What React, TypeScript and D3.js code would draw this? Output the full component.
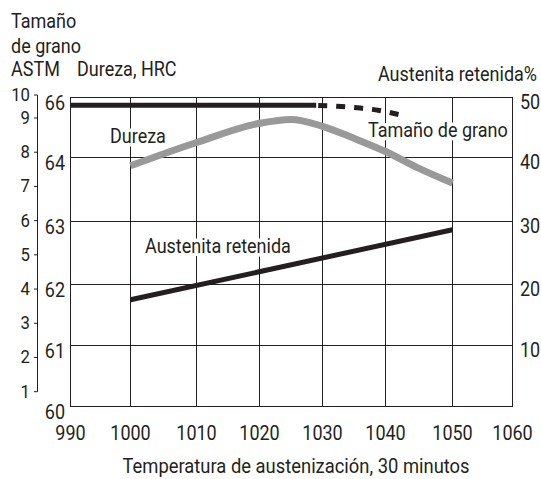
import React from "react";
import * as d3 from "d3";

// Austenitizing temperature, °C
const temperatureTicks = [990, 1000, 1010, 1020, 1030, 1040, 1050, 1060];
// Retained austenite, % (right axis)
const austeniteTicks = [0, 10, 20, 30, 40, 50];
const austeniteLabels = [10, 20, 30, 40, 50];
// Hardness, HRC (inner left axis)
const hardnessTicks = [60, 61, 62, 63, 64, 66];
// ASTM grain size (outer left axis)
const grainTicks = [1, 2, 3, 4, 5, 6, 7, 8, 9, 10];

// Hardness curve
const hardnessTemps = [1000, 1010, 1020, 1025, 1030, 1035, 1040, 1045, 1050];
const hardnessHRC = [63.87, 64.5, 65.14, 65.27, 65.04, 64.64, 64.2, 63.83, 63.6];

// Retained austenite
const austeniteTemps = [1000, 1050];
const austenitePct = [17.5, 28.7];

// Grain size: measured (solid) and extrapolated (dashed)
const grainSolidTemps = [990, 1029];
const grainSolidASTM = [9.55, 9.55];
const grainDashedTemps = [1029, 1033, 1036, 1039, 1042];
const grainDashedASTM = [9.55, 9.5, 9.43, 9.33, 9.15];

const W = 541;
const H = 479;
const INK = "#231f20";
const FONT = "Roboto, 'Liberation Sans', sans-serif";
const NARROW = 0.9; // horizontal squeeze to get a condensed face

// Grid positions of the printed figure
const xRange = [70.5, 130.5, 196.5, 259.5, 322.5, 385.5, 452.5, 512.5];
const yRange = [406.5, 345.5, 284.5, 221.5, 157.5, 97.5];

type TProps = {
  x: number;
  y: number;
  size?: number;
  anchor?: "start" | "middle" | "end";
  sx?: number;
  halo?: boolean;
  children: React.ReactNode;
};

// Condensed text: drawn at (x, y) and squeezed horizontally
function CText({ x, y, size = 20, anchor = "start", sx = NARROW, halo, children }: TProps) {
  return (
    <text
      transform={`translate(${x},${y}) scale(${sx},1)`}
      fontSize={size}
      textAnchor={anchor}
      style={
        halo
          ? { stroke: "#fff", strokeWidth: 7, strokeLinejoin: "round", paintOrder: "stroke" }
          : undefined
      }
    >
      {children}
    </text>
  );
}

export default function App() {
  const x = d3.scaleLinear().domain(temperatureTicks).range(xRange);
  const yPct = d3.scaleLinear().domain(austeniteTicks).range(yRange);
  const hrcToPct = d3.scaleLinear().domain([60, 64, 66]).range([0, 40, 50]);
  const yHRC = (v: number) => yPct(hrcToPct(v));
  const yGrain = d3.scaleLinear().domain([1, 9, 10]).range([391.7, 118, 95]);

  const [x0, x1] = [x(990), x(1060)];
  const [yb, yt] = [yPct(0), yPct(50)];

  const hardnessLine = d3
    .line<number>()
    .x((_, i) => x(hardnessTemps[i]))
    .y((d) => yHRC(d))
    .curve(d3.curveMonotoneX)(hardnessHRC);

  const austeniteLine = d3
    .line<number>()
    .x((_, i) => x(austeniteTemps[i]))
    .y((d) => yPct(d))(austenitePct);

  const grainSolid = d3
    .line<number>()
    .x((_, i) => x(grainSolidTemps[i]))
    .y((d) => yGrain(d))(grainSolidASTM);

  const grainDashed = d3
    .line<number>()
    .x((_, i) => x(grainDashedTemps[i]))
    .y((d) => yGrain(d))
    .curve(d3.curveMonotoneX)(grainDashedASTM);

  return (
    <svg
      width={W}
      height={H}
      style={{ position: "absolute", left: 0, top: 0, background: "#fff" }}
      fontFamily={FONT}
      fill={INK}
    >
      <rect width={W} height={H} fill="#fff" />

      {/* axis captions */}
      <CText x={11} y={28}>Tamaño</CText>
      <CText x={11} y={53}>de grano</CText>
      <CText x={11} y={76}>ASTM</CText>
      <CText x={77} y={76}>Dureza, HRC</CText>
      <CText x={537} y={81} anchor="end">Austenita retenida%</CText>

      {/* grid */}
      <g stroke={INK} strokeWidth={1} fill="none">
        {austeniteTicks.slice(1, -1).map((t) => (
          <line key={"h" + t} x1={x0} x2={x1} y1={yPct(t)} y2={yPct(t)} />
        ))}
        {temperatureTicks.slice(1, -1).map((t) => (
          <line key={"v" + t} x1={x(t)} x2={x(t)} y1={yt} y2={yb} />
        ))}
        <rect x={x0} y={yt} width={x1 - x0} height={yb - yt} />
      </g>

      {/* ASTM grain-size bracket axis */}
      <g stroke={INK} strokeWidth={1} fill="none">
        <line x1={37.5} x2={37.5} y1={yGrain(10)} y2={yGrain(1)} />
        {grainTicks.map((t) => (
          <line key={t} x1={34} x2={37.5} y1={yGrain(t)} y2={yGrain(t)} />
        ))}
      </g>
      {grainTicks.map((t) => (
        <CText key={t} x={30} y={yGrain(t) + 6} size={19} anchor="end" sx={0.88}>
          {t}
        </CText>
      ))}

      {/* HRC labels */}
      {hardnessTicks.map((t) => (
        <CText key={t} x={65} y={yHRC(t) + 12} anchor="end">
          {t}
        </CText>
      ))}

      {/* retained austenite labels */}
      {austeniteLabels.map((t) => (
        <CText key={t} x={520} y={yPct(t) + 11}>
          {t}
        </CText>
      ))}

      {/* temperature labels */}
      {temperatureTicks.map((t) => (
        <CText key={t} x={x(t)} y={440} anchor="middle">
          {t}
        </CText>
      ))}
      <CText x={296} y={473} anchor="middle" sx={0.92}>
        Temperatura de austenización, 30 minutos
      </CText>

      {/* series labels with white knock-out */}
      <CText x={110} y={143} halo>Dureza</CText>
      <CText x={145} y={253} halo>Austenita retenida</CText>
      <CText x={368} y={137} halo>Tamaño de grano</CText>

      {/* series */}
      <path d={hardnessLine ?? ""} fill="none" stroke="#999" strokeWidth={7} />
      <path d={austeniteLine ?? ""} fill="none" stroke={INK} strokeWidth={5} />
      <path d={grainSolid ?? ""} fill="none" stroke={INK} strokeWidth={5} />
      <path
        d={grainDashed ?? ""}
        fill="none"
        stroke={INK}
        strokeWidth={5}
        strokeDasharray="9 9"
        strokeDashoffset={-2}
      />
    </svg>
  );
}
